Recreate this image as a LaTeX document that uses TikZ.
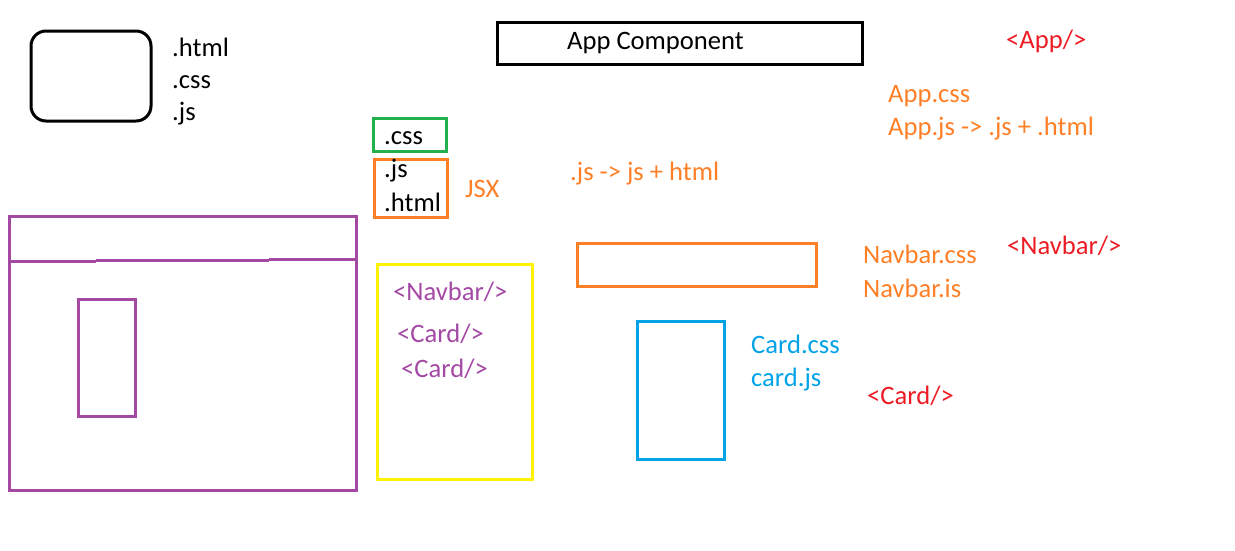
\documentclass[tikz,border=0pt]{standalone}
\usepackage{fontspec}
\setmainfont{Carlito}
\definecolor{paintpurple}{HTML}{A349A4}
\definecolor{paintorange}{HTML}{FF7F27}
\definecolor{paintgreen}{HTML}{22B14C}
\definecolor{paintyellow}{HTML}{FFF200}
\definecolor{paintblue}{HTML}{00A2E8}
\definecolor{paintred}{HTML}{ED1C24}
\tikzset{
  lbl/.style={anchor=base west, inner sep=0pt, font=\fontsize{26.6}{32}\selectfont},
  pen/.style={line width=3pt},
}

\begin{document}
\begin{tikzpicture}[x=1pt, y=-1pt]
			%%%%% START %%%%%
			\useasboundingbox (0, 0) rectangle (1235, 550);
			
			\draw[pen, rounded corners=15pt] (31, 31) rectangle (151, 121);
			\node[lbl] (fhtml) at (172, 56) {.html};
			\node[lbl] (fcss) at (172, 88) {.css};
			\node[lbl] (fjs) at (172, 120) {.js};
			
			\draw[pen] (497, 22) rectangle (862, 64);
			\node[lbl] (appcomp) at (567, 49) {App Component};
			
			\node[lbl, color=paintred] (apptag) at (1006, 48) {<App/>};
			\node[lbl, color=paintorange] (appcss) at (888, 102) {App.css};
			\node[lbl, color=paintorange] (appjs) at (888, 135) {App.js -> .js + .html};
			
			\draw[pen, color=paintgreen] (373, 118) rectangle (446, 151);
			\node[lbl] (jcss) at (384, 144) {.css};
			
			\draw[pen, color=paintorange] (374, 159) rectangle (447, 217);
			\node[lbl] (jjs) at (384, 177) {.js};
			\node[lbl] (jhtml) at (384, 211) {.html};
			\node[lbl, color=paintorange] (jsx) at (465, 197) {JSX};
			\node[lbl, color=paintorange] (jsrule) at (570, 180) {.js -> js + html};
			
			\draw[pen, color=paintpurple] (9, 216) rectangle (356, 490);
			\draw[pen, color=paintpurple] (9, 261) -- (96, 261);
			\draw[pen, color=paintpurple] (96, 260) -- (269, 260);
			\draw[pen, color=paintpurple] (269, 259) -- (356, 259);
			\draw[pen, color=paintpurple] (78, 299) rectangle (135, 416);
			
			\draw[pen, color=paintyellow] (377, 264) rectangle (532, 479);
			\node[lbl, color=paintpurple] (ynavbar) at (393, 300) {<Navbar/>};
			\node[lbl, color=paintpurple] (ycardA) at (397, 342) {<Card/>};
			\node[lbl, color=paintpurple] (ycardB) at (401, 377) {<Card/>};
			
			\draw[pen, color=paintorange] (577, 243) rectangle (816, 286);
			\node[lbl, color=paintorange] (navcss) at (863, 263) {Navbar.css};
			\node[lbl, color=paintorange] (navjs) at (863, 297) {Navbar.is};
			\node[lbl, color=paintred] (navtag) at (1007, 254) {<Navbar/>};
			
			\draw[pen, color=paintblue] (637, 321) rectangle (724, 459);
			\node[lbl, color=paintblue] (cardcss) at (751, 353) {Card.css};
			\node[lbl, color=paintblue] (cardjs) at (751, 386) {card.js};
			\node[lbl, color=paintred] (cardtag) at (867, 404) {<Card/>};
			
			%%%%% END %%%%%
		\end{tikzpicture}
\end{document}
